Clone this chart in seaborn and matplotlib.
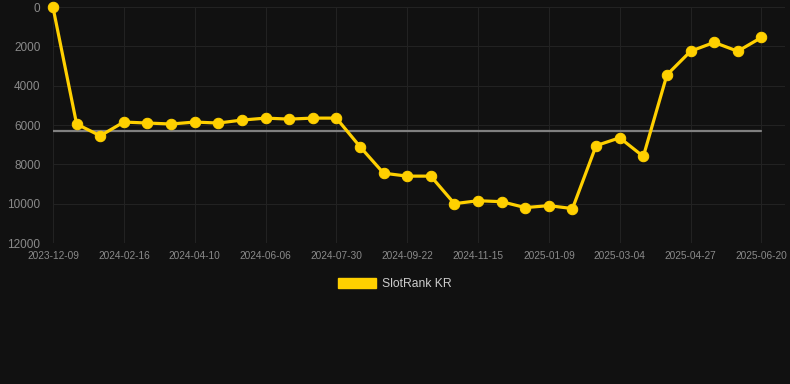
import numpy as np
import pandas as pd
import seaborn as sns
import matplotlib.pyplot as plt
from matplotlib.patches import Patch

dates = ['2023-12-09', '', '', '2024-02-16', '', '', '2024-04-10', '', '',
         '2024-06-06', '', '', '2024-07-30', '', '', '2024-09-22', '', '',
         '2024-11-15', '', '', '2025-01-09', '', '', '2025-03-04', '', '',
         '2025-04-27', '', '', '2025-06-20']
rank = [20, 5950, 6550, 5850, 5900, 5950, 5850, 5900, 5750, 5650, 5700,
        5650, 5650, 7100, 8450, 8600, 8600, 10000, 9850, 9900, 10200, 10100,
        10250, 7050, 6650, 7600, 3450, 2250, 1800, 2250, 1550]

df = pd.DataFrame({'idx': np.arange(len(rank)), 'rank': rank})

sns.set_style('dark')
plt.rcParams['font.family'] = ['Liberation Sans', 'DejaVu Sans']
bg = '#111111'
gold = '#ffd000'

fig = plt.figure(figsize=(7.9, 3.84), dpi=100, facecolor=bg)
ax = fig.add_axes([53/790, 1-243/384, (785-53)/790, (243-7)/384])
ax.set_facecolor(bg)

# average line
avg = np.mean(rank)
ax.plot([df['idx'].iloc[0], df['idx'].iloc[-1]], [avg, avg], color='#808080', lw=1.6, zorder=2)

sns.lineplot(data=df, x='idx', y='rank', ax=ax, color=gold, lw=2.3,
             marker='o', markersize=7.5, markeredgecolor=gold, zorder=3,
             clip_on=False)

ax.set_xlim(0, 31)
ax.set_ylim(12000, 0)
ax.set_yticks(np.arange(0, 12001, 2000))
tick_idx = [i for i, d in enumerate(dates) if d]
ax.set_xticks(tick_idx)
ax.set_xticklabels([dates[i] for i in tick_idx])
ax.tick_params(axis='x', colors='#8a8a8a', labelsize=7.3, length=0, pad=6)
ax.tick_params(axis='y', colors='#8a8a8a', labelsize=8.5, length=0, pad=9)
ax.grid(True, color='#222222', lw=0.8)
for s in ax.spines.values():
    s.set_visible(False)
ax.set_xlabel('')
ax.set_ylabel('')

handle = Patch(facecolor=gold, edgecolor=gold)
fig.legend([handle], ['SlotRank KR'], loc='center', bbox_to_anchor=(0.5, 1-284/384),
           frameon=False, fontsize=8.7, labelcolor='#cccccc', handlelength=3.1,
           handleheight=0.9, handletextpad=0.5)

fig.savefig('out.png', dpi=100, facecolor=bg)
